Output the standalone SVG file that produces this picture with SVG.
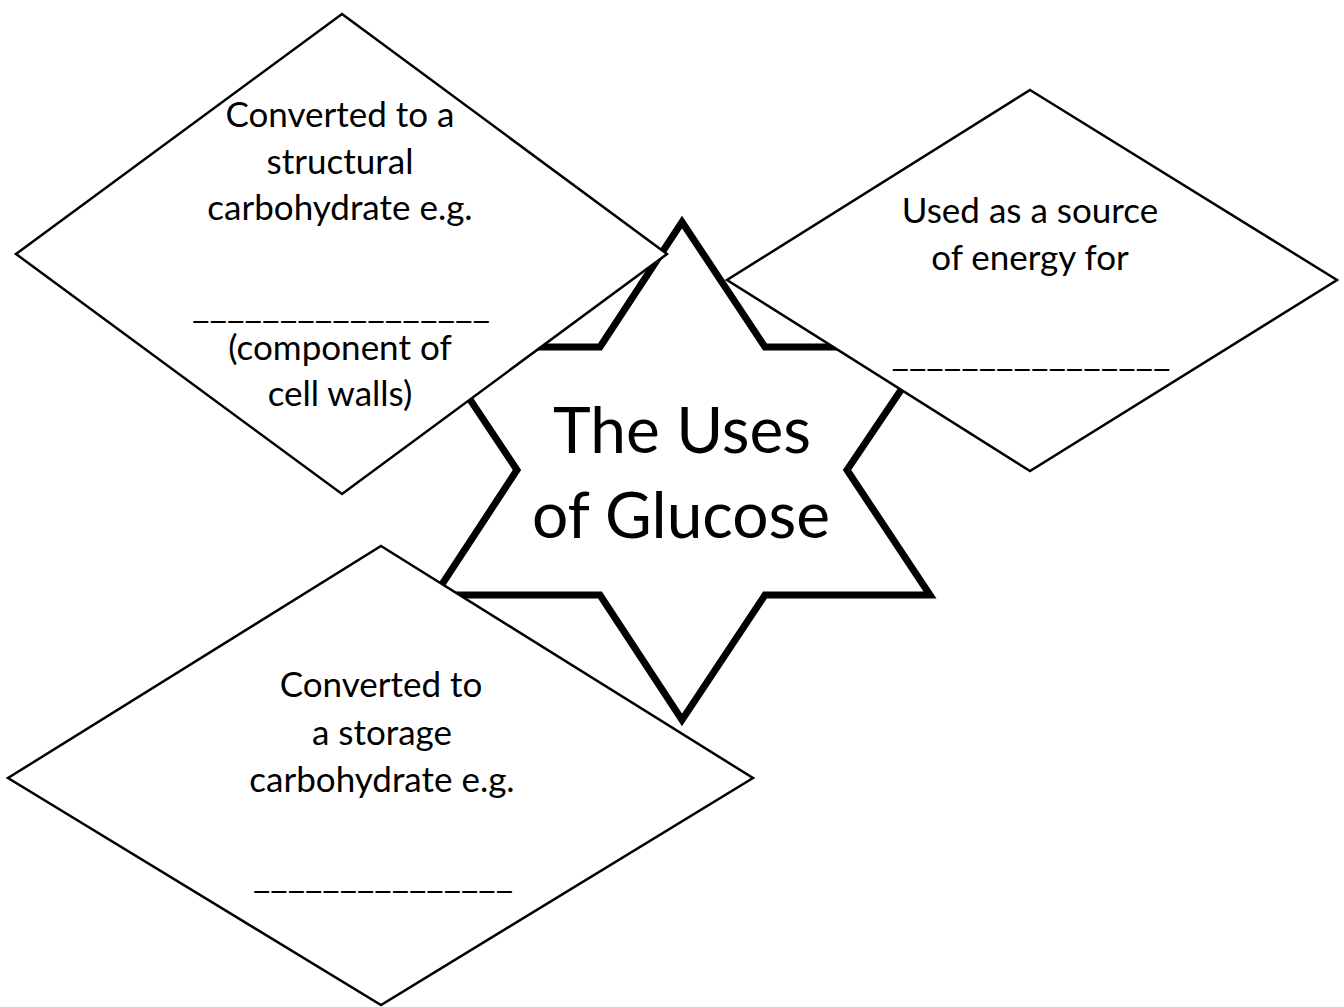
<svg xmlns="http://www.w3.org/2000/svg" width="1344" height="1007" viewBox="0 0 1344 1007">
<style>
.dia{fill:#fff;stroke:#000;stroke-width:2.5;stroke-linejoin:miter}
.star{fill:#fff;stroke:#000;stroke-width:7;stroke-linejoin:miter}
.t{font-family:Lato,"Open Sans","Liberation Sans",sans-serif;font-size:35px;fill:#000;text-anchor:middle}
.title{font-family:Lato,"Open Sans","Liberation Sans",sans-serif;font-size:64px;fill:#000;text-anchor:middle}
</style>
<rect width="1344" height="1007" fill="#fff"/>
<g id="star">
<polygon class="star" points="682,222 765,347 930,347 847,470 930,595 765,595 682,720 600,595 435,595 517,470 435,347 600,347"/>
<text class="title" x="682" y="453">The Uses</text>
<text class="title" x="681" y="538">of Glucose</text>
</g>
<g id="connectors"></g>
<g id="node-structural">
<polygon class="dia" points="342,14 667,254 342,494 16,254"/>
<text class="t" x="340" y="127">Converted to a</text>
<text class="t" x="340" y="174">structural</text>
<text class="t" x="340" y="220">carbohydrate e.g.</text>
<text class="t" x="341" y="318" textLength="298" lengthAdjust="spacingAndGlyphs">_________________</text>
<text class="t" x="340" y="360">(component of</text>
<text class="t" x="340" y="406">cell walls)</text>
</g>
<g id="node-energy">
<polygon class="dia" points="1030,90 1337,280 1030,471 727,280"/>
<text class="t" x="1030" y="223">Used as a source</text>
<text class="t" x="1030" y="270">of energy for</text>
<text class="t" x="1031" y="366" textLength="279" lengthAdjust="spacingAndGlyphs">________________</text>
</g>
<g id="node-storage">
<polygon class="dia" points="381,546 753,778 381,1005 8,778"/>
<text class="t" x="381" y="697">Converted to</text>
<text class="t" x="382" y="745">a storage</text>
<text class="t" x="382" y="792">carbohydrate e.g.</text>
<text class="t" x="383" y="888" textLength="260" lengthAdjust="spacingAndGlyphs">_______________</text>
</g>
</svg>
